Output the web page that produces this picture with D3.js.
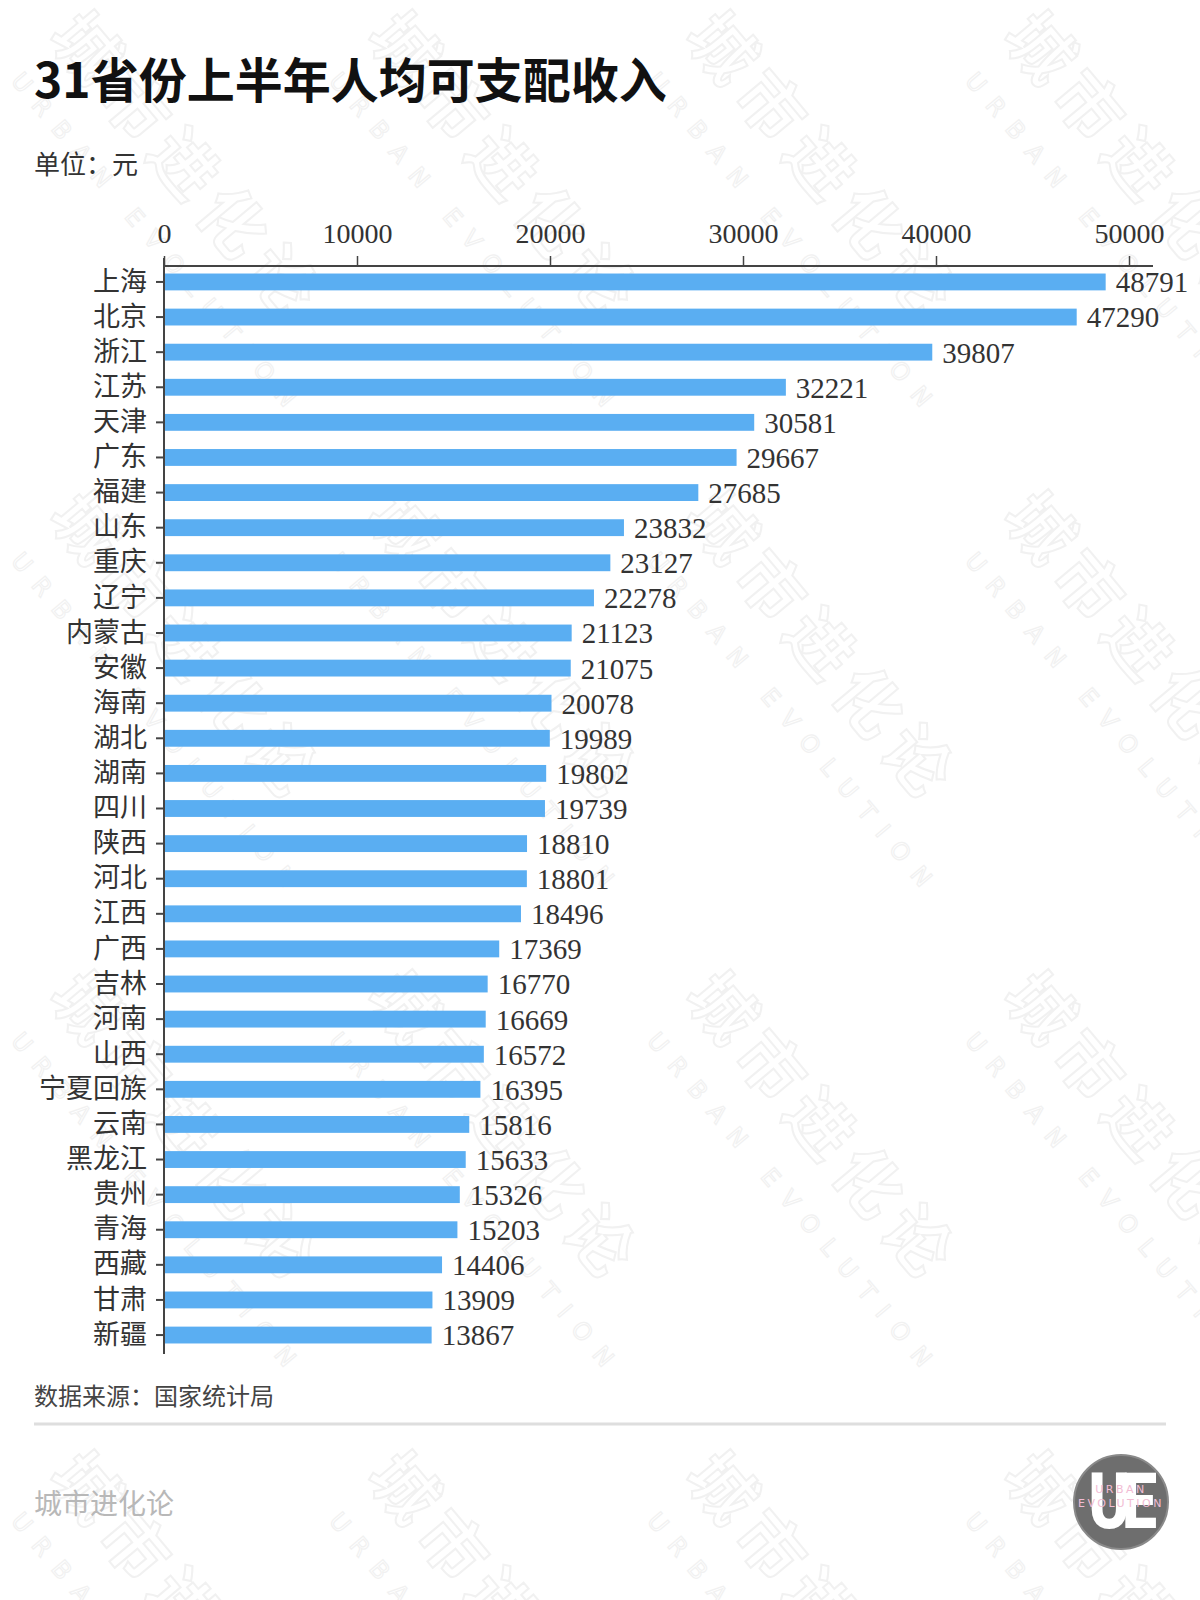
<!DOCTYPE html>
<html>
<head>
<meta charset="utf-8">
<script src="https://cdn.jsdelivr.net/npm/d3@7"></script>
<style>
  html, body { margin: 0; padding: 0; background: #fff; }
  svg { display: block; }
</style>
</head>
<body>
<div id="chart"></div>
<script>
const titleText = "31省份上半年人均可支配收入";
const unitText = "单位：元";
const sourceText = "数据来源：国家统计局";
const brandText = "城市进化论";

const categories = ["上海","北京","浙江","江苏","天津","广东","福建","山东","重庆","辽宁","内蒙古","安徽","海南","湖北","湖南","四川","陕西","河北","江西","广西","吉林","河南","山西","宁夏回族","云南","黑龙江","贵州","青海","西藏","甘肃","新疆"];
const values = [48791,47290,39807,32221,30581,29667,27685,23832,23127,22278,21123,21075,20078,19989,19802,19739,18810,18801,18496,17369,16770,16669,16572,16395,15816,15633,15326,15203,14406,13909,13867];
const xTicks = [0,10000,20000,30000,40000,50000];

const W = 1200, H = 1600;
const latinCJK = "'Liberation Serif','Noto Sans CJK SC',serif";
const cjk = "'Noto Sans CJK SC','Liberation Serif',sans-serif";

const svg = d3.select("#chart").append("svg")
  .attr("width", W).attr("height", H)
  .attr("viewBox", `0 0 ${W} ${H}`);

svg.append("rect").attr("width", W).attr("height", H).attr("fill", "#fff");

// very faint watermark tiles
const wm = svg.append("g").attr("aria-hidden", "true").style("pointer-events", "none");
[0, 1, 2, 3].forEach(r => [0, 1, 2, 3].forEach(c => {
  const gx = 40 + c * 318;
  const gy = 30 + r * 480;
  const g = wm.append("g").attr("transform", `translate(${gx},${gy}) rotate(50)`);
  g.append("text").attr("x", 10).attr("y", 0)
    .attr("font-family", cjk).attr("font-weight", 700).attr("font-size", 66)
    .attr("fill", "none").attr("stroke", "#f1f1f1").attr("stroke-width", 2)
    .attr("letter-spacing", 10)
    .text("城市进化论");
  g.append("text").attr("x", 20).attr("y", 56)
    .attr("font-family", "'DejaVu Sans',sans-serif").attr("font-size", 24)
    .attr("fill", "none").attr("stroke", "#f1f1f1").attr("stroke-width", 1.2)
    .attr("letter-spacing", 14)
    .text("URBAN EVOLUTION");
}));

// title & subtitle
svg.append("text").attr("x", 34).attr("y", 98)
  .attr("font-family", cjk).attr("font-weight", 700).attr("font-size", 48)
  .attr("fill", "#111").text(titleText);

svg.append("text").attr("x", 34).attr("y", 174)
  .attr("font-family", cjk).attr("font-size", 26)
  .attr("fill", "#333").text(unitText);

// scales
const x0 = 164, x50 = 1129, axisY = 266;
const x = d3.scaleLinear().domain([0, 50000]).range([x0, x50]);
const y = d3.scaleBand().domain(categories).range([264.4, 1352.6])
  .paddingInner(0.52).paddingOuter(0.26);

// bars
svg.append("g").selectAll("rect").data(categories).join("rect")
  .attr("x", x(0))
  .attr("y", d => y(d))
  .attr("width", (d, i) => x(values[i]) - x(0))
  .attr("height", y.bandwidth())
  .attr("fill", "#5aaef2");

// value labels
svg.append("g").selectAll("text").data(categories).join("text")
  .attr("x", (d, i) => x(values[i]) + 10)
  .attr("y", d => y(d) + y.bandwidth() / 2)
  .attr("dy", "0.36em")
  .attr("font-family", latinCJK).attr("font-size", 29)
  .attr("fill", "#333")
  .text((d, i) => values[i]);

// top x axis
const xAxisG = svg.append("g").attr("transform", `translate(0,${axisY})`)
  .call(d3.axisTop(x).tickValues(xTicks).tickFormat(d3.format("d"))
    .tickSize(10).tickSizeOuter(0).tickPadding(13));
xAxisG.select(".domain").attr("d", `M${x0},0H1153`).attr("stroke", "#444").attr("stroke-width", 2);
xAxisG.selectAll(".tick line").attr("stroke", "#444").attr("stroke-width", 1.5);
xAxisG.selectAll(".tick text").attr("font-family", latinCJK).attr("font-size", 28).attr("fill", "#333");

// left y axis
const yAxisG = svg.append("g").attr("transform", `translate(${x0},0)`)
  .call(d3.axisLeft(y).tickSize(8).tickSizeOuter(0).tickPadding(9));
yAxisG.select(".domain").attr("d", `M0,258V1354`).attr("stroke", "#444").attr("stroke-width", 2);
yAxisG.selectAll(".tick line").attr("stroke", "#444").attr("stroke-width", 2);
yAxisG.selectAll(".tick text").attr("font-family", cjk).attr("font-size", 27).attr("fill", "#333");

// source
svg.append("text").attr("x", 34).attr("y", 1405)
  .attr("font-family", cjk).attr("font-size", 24)
  .attr("fill", "#444").text(sourceText);

svg.append("line").attr("x1", 34).attr("x2", 1166).attr("y1", 1424).attr("y2", 1424)
  .attr("stroke", "#dedede").attr("stroke-width", 3);

// brand
svg.append("text").attr("x", 34).attr("y", 1514)
  .attr("font-family", cjk).attr("font-size", 28)
  .attr("fill", "#b8b8b8").text(brandText);

// logo
const logo = svg.append("g").attr("transform", "translate(1121,1502)");
logo.append("circle").attr("r", 47).attr("fill", "#6e6e6e");
logo.append("circle").attr("r", 47).attr("fill", "none").attr("stroke", "#8a8a8a").attr("stroke-width", 2);
logo.append("text").attr("x", -3).attr("y", 26).attr("text-anchor", "middle")
  .attr("font-family", "'Roboto','DejaVu Sans',sans-serif").attr("font-weight", 900)
  .attr("font-size", 78).attr("fill", "#fff").attr("letter-spacing", -10)
  .attr("transform", "scale(0.8,1)")
  .text("UE");
logo.append("text").attr("x", 0).attr("y", -9).attr("text-anchor", "middle")
  .attr("font-family", "'DejaVu Sans',sans-serif").attr("font-size", 11)
  .attr("letter-spacing", 2.5).attr("fill", "#f2bcd4").text("URBAN");
logo.append("text").attr("x", 0).attr("y", 5).attr("text-anchor", "middle")
  .attr("font-family", "'DejaVu Sans',sans-serif").attr("font-size", 11)
  .attr("letter-spacing", 2.5).attr("fill", "#f2bcd4").text("EVOLUTION");
</script>
</body>
</html>
